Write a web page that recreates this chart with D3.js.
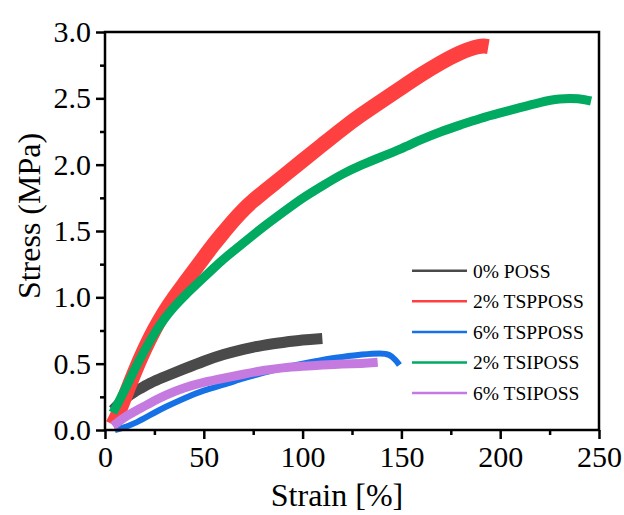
<!DOCTYPE html>
<html>
<head>
<meta charset="utf-8">
<script src="https://cdn.jsdelivr.net/npm/d3@7"></script>
<style>
  body { margin: 0; background: #fff; }
  text { font-family: "Palatino Linotype", "Book Antiqua", Palatino, "Liberation Serif", serif; fill: #000; }
</style>
</head>
<body>
<div class="chart"></div>
<script>
// series names and colours, legend order
var seriesNames = ["0% POSS", "2% TSPPOSS", "6% TSPPOSS", "2% TSIPOSS", "6% TSIPOSS"]
var seriesColors = ["#4a4a4a", "#ff4040", "#1670e6", "#00aa60", "#c57ae0"]

// strain [%] / stress (MPa) (band centre lines)
var poss0Strain = [4, 10, 15, 20, 25, 30, 40, 50, 60, 70, 80, 90, 100, 110]
var poss0Stress = [0.15, 0.24, 0.29, 0.33, 0.37, 0.40, 0.46, 0.52, 0.57, 0.61, 0.64, 0.66, 0.68, 0.69]

var tsp2Strain = [4, 7, 10, 15, 20, 25, 30, 35, 40, 45, 50, 55, 60, 65, 70, 75, 80, 85, 90, 100, 110, 120, 130, 140, 150, 160, 170, 180, 190, 194]
var tsp2Stress = [0.04, 0.13, 0.25, 0.44, 0.61, 0.76, 0.89, 1.00, 1.10, 1.20, 1.30, 1.40, 1.49, 1.58, 1.66, 1.73, 1.79, 1.85, 1.91, 2.03, 2.15, 2.27, 2.38, 2.48, 2.58, 2.68, 2.77, 2.85, 2.90, 2.89]

var tsp6Strain = [5, 10, 15, 20, 25, 30, 40, 50, 60, 70, 80, 90, 100, 110, 120, 130, 140, 144, 147, 149]
var tsp6Stress = [0.00, 0.02, 0.05, 0.09, 0.13, 0.17, 0.24, 0.30, 0.34, 0.39, 0.43, 0.47, 0.50, 0.53, 0.55, 0.57, 0.58, 0.57, 0.53, 0.49]

var tsi2Strain = [4, 10, 15, 20, 25, 30, 35, 40, 50, 55, 60, 65, 70, 75, 80, 90, 100, 110, 120, 130, 140, 150, 160, 170, 180, 190, 200, 210, 220, 230, 240, 246]
var tsi2Stress = [0.13, 0.30, 0.46, 0.60, 0.73, 0.84, 0.93, 1.01, 1.15, 1.22, 1.29, 1.35, 1.41, 1.47, 1.53, 1.64, 1.75, 1.84, 1.93, 2.00, 2.06, 2.12, 2.19, 2.25, 2.30, 2.35, 2.39, 2.43, 2.47, 2.50, 2.50, 2.48]

var tsi6Strain = [4, 10, 15, 20, 25, 30, 40, 50, 60, 70, 80, 90, 100, 110, 120, 130, 138]
var tsi6Stress = [0.03, 0.10, 0.14, 0.18, 0.22, 0.26, 0.32, 0.36, 0.39, 0.42, 0.45, 0.47, 0.48, 0.49, 0.50, 0.50, 0.51]

var xTicks = [0, 50, 100, 150, 200, 250]
var yTicks = [0.0, 0.5, 1.0, 1.5, 2.0, 2.5, 3.0]

document.addEventListener("DOMContentLoaded", draw)

function draw() {
  var width = 624,
    height = 515,
    left = 105, right = 599, top = 32, bottom = 430;

  var svg = d3.select(".chart").append("svg")
    .attr("width", width)
    .attr("height", height)

  var x = d3.scaleLinear().domain([0, 250]).range([left, right])
  var y = d3.scaleLinear().domain([0, 3]).range([bottom, top])

  // band = how thick the noisy trace looks, in px
  var series = [
    {strain: poss0Strain, stress: poss0Stress, band: 11},
    {strain: tsp2Strain, stress: tsp2Stress, band: 15},
    {strain: tsp6Strain, stress: tsp6Stress, band: 6},
    {strain: tsi2Strain, stress: tsi2Stress, band: 9},
    {strain: tsi6Strain, stress: tsi6Stress, band: 9}
  ]

  var line = d3.line()
    .x(function (d) { return x(d[0]) })
    .y(function (d) { return y(d[1]) })
    .curve(d3.curveBasis)

  svg.append("g").selectAll("path")
    .data(series)
    .enter().append("path")
    .attr("d", function (s) { return line(d3.zip(s.strain, s.stress)) })
    .attr("fill", "none")
    .attr("stroke", function (s, i) { return seriesColors[i] })
    .attr("stroke-width", function (s) { return s.band })
    .attr("stroke-linejoin", "round")

  // minor ticks
  var minorX = d3.range(25, 250, 50)
  var minorY = d3.range(0.25, 3, 0.5)
  svg.append("g")
    .attr("transform", "translate(0," + bottom + ")")
    .call(d3.axisBottom(x).tickValues(minorX).tickSize(5).tickFormat(""))
    .call(styleAxis)
  svg.append("g")
    .attr("transform", "translate(" + left + ",0)")
    .call(d3.axisLeft(y).tickValues(minorY).tickSize(5).tickFormat(""))
    .call(styleAxis)

  // major ticks
  svg.append("g")
    .attr("transform", "translate(0," + bottom + ")")
    .call(d3.axisBottom(x).tickValues(xTicks).tickSize(9).tickPadding(7).tickFormat(d3.format("d")))
    .call(styleAxis)
  svg.append("g")
    .attr("transform", "translate(" + left + ",0)")
    .call(d3.axisLeft(y).tickValues(yTicks).tickSize(9).tickPadding(5).tickFormat(d3.format(".1f")))
    .call(styleAxis)

  // frame
  svg.append("rect")
    .attr("x", left).attr("y", top)
    .attr("width", right - left).attr("height", bottom - top)
    .attr("fill", "none")
    .attr("stroke", "#000")
    .attr("stroke-width", 2.5)

  svg.append("text")
    .attr("transform", "translate(40,216) rotate(-90)")
    .attr("text-anchor", "middle")
    .style("font-size", "32px")
    .text("Stress (MPa)")

  svg.append("text")
    .attr("x", 337).attr("y", 506)
    .attr("text-anchor", "middle")
    .style("font-size", "32px")
    .text("Strain [%]")

  var legend = svg.append("g").selectAll("g")
    .data(seriesNames)
    .enter().append("g")
    .attr("transform", function (d, i) { return "translate(412," + (270.7 + i * 30.6) + ")" })

  legend.append("line")
    .attr("x1", 0).attr("x2", 55)
    .attr("stroke", function (d, i) { return seriesColors[i] })
    .attr("stroke-width", 2.5)

  legend.append("text")
    .attr("x", 61)
    .attr("dy", "0.35em")
    .style("font-size", "19.5px")
    .text(function (d) { return d })
}

function styleAxis(g) {
  g.select(".domain").remove()
  g.selectAll(".tick line").attr("stroke", "#000").attr("stroke-width", 2.5)
  g.selectAll(".tick text")
    .style("font-size", "30px")
    .attr("fill", "#000")
  g.attr("font-family", null).attr("font-size", null)
}
</script>
</body>
</html>
